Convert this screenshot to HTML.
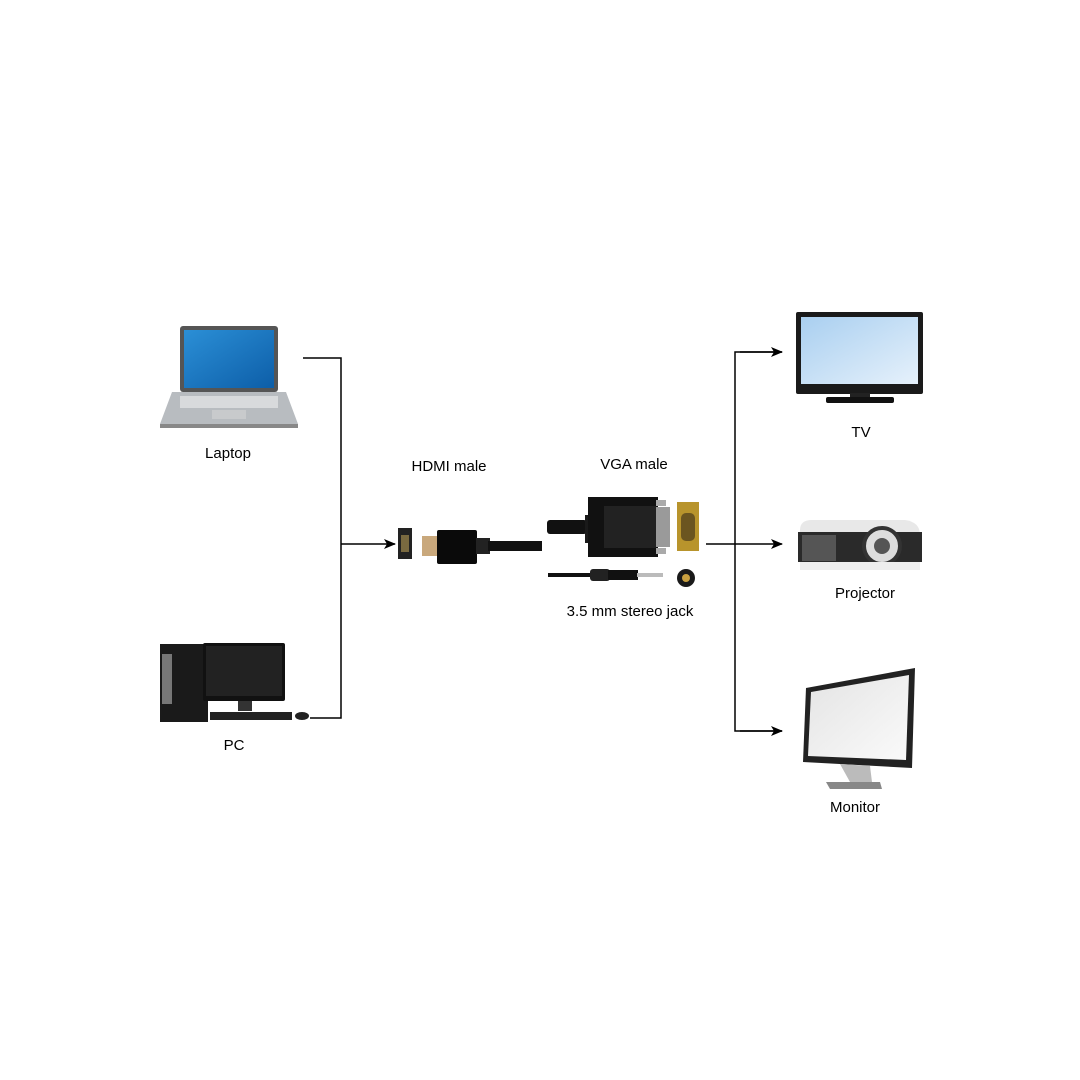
<!DOCTYPE html>
<html><head><style>html,body{margin:0;padding:0;background:#fff}svg{display:block}</style></head><body>
<svg width="1080" height="1080" viewBox="0 0 1080 1080" xmlns="http://www.w3.org/2000/svg" font-family="Liberation Sans, sans-serif" font-size="15" fill="#000">
<defs>
<linearGradient id="scr" x1="0" y1="0" x2="1" y2="1"><stop offset="0" stop-color="#2b8fd6"/><stop offset="1" stop-color="#0d5ea8"/></linearGradient>
<linearGradient id="tv" x1="0" y1="0" x2="1" y2="1"><stop offset="0" stop-color="#a9cff0"/><stop offset="1" stop-color="#e6f1fb"/></linearGradient>
<linearGradient id="mon" x1="0" y1="0" x2="1" y2="1"><stop offset="0" stop-color="#e4e4e4"/><stop offset="1" stop-color="#fafafa"/></linearGradient>
<marker id="ar" markerWidth="12" markerHeight="10" refX="11" refY="5" orient="auto" markerUnits="userSpaceOnUse"><path d="M0,0 L12,5 L0,10 L3,5 Z" fill="#000"/></marker>
</defs>
<!-- connectors -->
<g stroke="#000" stroke-width="1.5" fill="none">
<polyline points="303,358 341,358 341,718 310,718"/>
<line x1="341" y1="544" x2="395" y2="544" marker-end="url(#ar)"/>
<line x1="706" y1="544" x2="782" y2="544" marker-end="url(#ar)"/>
<polyline points="782,352 735,352 735,731 782,731" />
<line x1="740" y1="352" x2="782" y2="352" marker-end="url(#ar)"/>
<line x1="740" y1="731" x2="782" y2="731" marker-end="url(#ar)"/>
</g>
<!-- laptop -->
<rect x="180" y="326" width="98" height="66" rx="3" fill="#555"/>
<rect x="184" y="330" width="90" height="58" fill="url(#scr)"/>
<path d="M172,392 L286,392 L298,424 L160,424 Z" fill="#b8bcc0"/>
<rect x="180" y="396" width="98" height="12" fill="#d8dadc"/>
<rect x="212" y="410" width="34" height="9" fill="#c8cacc"/>
<rect x="160" y="424" width="138" height="4" fill="#888"/>
<!-- PC -->
<rect x="160" y="644" width="48" height="78" fill="#1a1a1a"/>
<rect x="162" y="654" width="10" height="50" fill="#777"/>
<rect x="203" y="643" width="82" height="58" rx="2" fill="#111"/>
<rect x="206" y="646" width="76" height="50" fill="#222"/>
<rect x="238" y="701" width="14" height="10" fill="#333"/>
<rect x="210" y="712" width="82" height="8" fill="#222"/>
<ellipse cx="302" cy="716" rx="7" ry="4" fill="#222"/>
<!-- HDMI -->
<rect x="398" y="528" width="14" height="31" fill="#222"/>
<rect x="401" y="535" width="8" height="17" fill="#7a6a40"/>
<rect x="422" y="536" width="16" height="20" fill="#c9a87c"/>
<rect x="437" y="530" width="40" height="34" rx="2" fill="#0a0a0a"/>
<rect x="476" y="538" width="14" height="16" fill="#222"/>
<rect x="488" y="541" width="54" height="10" fill="#111"/>
<!-- VGA -->
<rect x="547" y="520" width="40" height="14" rx="3" fill="#111"/>
<rect x="585" y="515" width="22" height="28" fill="#1a1a1a"/>
<rect x="588" y="497" width="70" height="60" fill="#111"/>
<rect x="604" y="506" width="52" height="42" fill="#222"/>
<rect x="656" y="507" width="14" height="40" fill="#9a9a9a"/>
<rect x="656" y="500" width="10" height="6" fill="#aaa"/>
<rect x="656" y="548" width="10" height="6" fill="#aaa"/>
<rect x="677" y="502" width="22" height="49" fill="#b8942c"/>
<rect x="681" y="513" width="14" height="28" rx="5" fill="#6b5520"/>
<!-- audio -->
<rect x="548" y="573" width="44" height="4" fill="#111"/>
<rect x="590" y="569" width="20" height="12" rx="3" fill="#222"/>
<rect x="608" y="570" width="30" height="10" fill="#111"/>
<rect x="637" y="573" width="26" height="4" fill="#bbb"/>
<circle cx="686" cy="578" r="9" fill="#1a1a1a"/>
<circle cx="686" cy="578" r="4" fill="#c9a040"/>
<!-- TV -->
<rect x="796" y="312" width="127" height="82" rx="2" fill="#1a1a1a"/>
<rect x="801" y="317" width="117" height="67" fill="url(#tv)"/>
<rect x="850" y="393" width="20" height="4" fill="#222"/>
<rect x="826" y="397" width="68" height="6" rx="2" fill="#111"/>
<!-- projector -->
<path d="M800,530 Q800,520 812,520 L905,520 Q920,522 920,535 L920,568 L800,568 Z" fill="#e8e8e8"/>
<rect x="798" y="532" width="124" height="30" fill="#2a2a2a"/>
<rect x="802" y="535" width="34" height="26" fill="#555"/>
<circle cx="882" cy="546" r="18" fill="#ddd" stroke="#333" stroke-width="4"/>
<circle cx="882" cy="546" r="8" fill="#555"/>
<rect x="800" y="562" width="120" height="8" fill="#eee"/>
<!-- monitor -->
<path d="M806,688 L915,668 L912,768 L803,762 Z" fill="#222"/>
<path d="M811,692 L909,675 L906,760 L808,756 Z" fill="url(#mon)"/>
<path d="M840,764 L870,766 L872,782 L850,782 Z" fill="#bbb"/>
<path d="M826,782 L880,782 L882,789 L830,789 Z" fill="#888"/>
<!-- labels -->
<g text-anchor="middle">
<text x="228" y="458">Laptop</text>
<text x="234" y="750">PC</text>
<text x="449" y="471">HDMI male</text>
<text x="634" y="469">VGA male</text>
<text x="630" y="616">3.5 mm stereo jack</text>
<text x="861" y="437">TV</text>
<text x="865" y="598">Projector</text>
<text x="855" y="812">Monitor</text>
</g>
</svg>
</body></html>
